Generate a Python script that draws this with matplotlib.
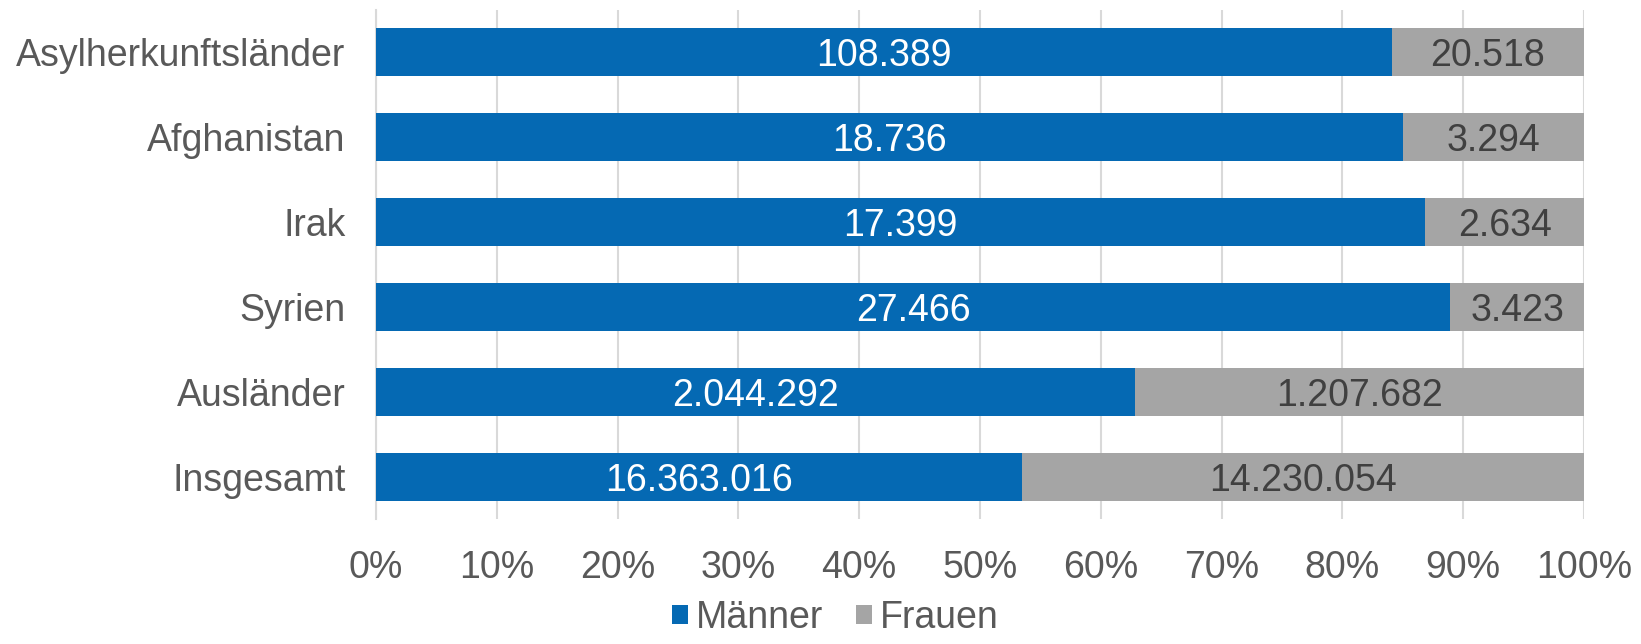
import matplotlib
matplotlib.use('Agg')
import matplotlib.pyplot as plt
import numpy as np

plt.rcParams['font.family'] = ['Liberation Sans', 'DejaVu Sans']

categories = ['Asylherkunftsländer', 'Afghanistan', 'Irak', 'Syrien', 'Ausländer', 'Insgesamt']
maenner = [108389, 18736, 17399, 27466, 2044292, 16363016]
frauen = [20518, 3294, 2634, 3423, 1207682, 14230054]
xticks = [0, 10, 20, 30, 40, 50, 60, 70, 80, 90, 100]

blue = '#0569B3'
grey = '#A5A5A5'
txt = '#595959'
fs = 27

def fmt(v):
    return f'{v:,}'.replace(',', '.')

m = np.array(maenner, dtype=float)
f = np.array(frauen, dtype=float)
tot = m + f
pm = m / tot * 100
pf = f / tot * 100

fig = plt.figure(figsize=(16.41, 6.44), dpi=100)
ax = fig.add_axes([0.2291, 0.1941, 0.7362, 0.7904])

y = np.arange(len(categories))
ax.barh(y, pm, height=0.565, color=blue, label='Männer', zorder=3)
ax.barh(y, pf, left=pm, height=0.565, color=grey, label='Frauen', zorder=3)

for i in range(len(categories)):
    ax.text(pm[i] / 2, y[i], fmt(maenner[i]), ha='center', va='center_baseline',
            color='white', fontsize=fs, zorder=4)
    ax.text(pm[i] + pf[i] / 2, y[i], fmt(frauen[i]), ha='center', va='center_baseline',
            color='#404040', fontsize=fs, zorder=4)

ax.set_ylim(len(categories) - 0.5, -0.5)
ax.set_xlim(0, 100)
ax.set_yticks(y)
ax.set_yticklabels(categories, fontsize=fs, color=txt)
ax.set_xticks(xticks)
ax.set_xticklabels([f'{t}%' for t in xticks], fontsize=fs, color=txt)
ax.tick_params(axis='y', length=0, pad=22)
ax.tick_params(axis='x', length=0, pad=22)
ax.grid(axis='x', color='#D9D9D9', linewidth=1.5, zorder=0)
for s in ['top', 'right', 'bottom']:
    ax.spines[s].set_visible(False)
ax.spines['left'].set_color('#D9D9D9')
ax.spines['left'].set_linewidth(1.5)

leg = fig.legend(loc='lower center', bbox_to_anchor=(0.509, -0.04), ncol=2,
                 frameon=False, fontsize=fs, handlelength=0.42, handleheight=0.42,
                 handletextpad=0.2, columnspacing=0.9)
for t in leg.get_texts():
    t.set_color(txt)

plt.savefig('out.png', dpi=100)
